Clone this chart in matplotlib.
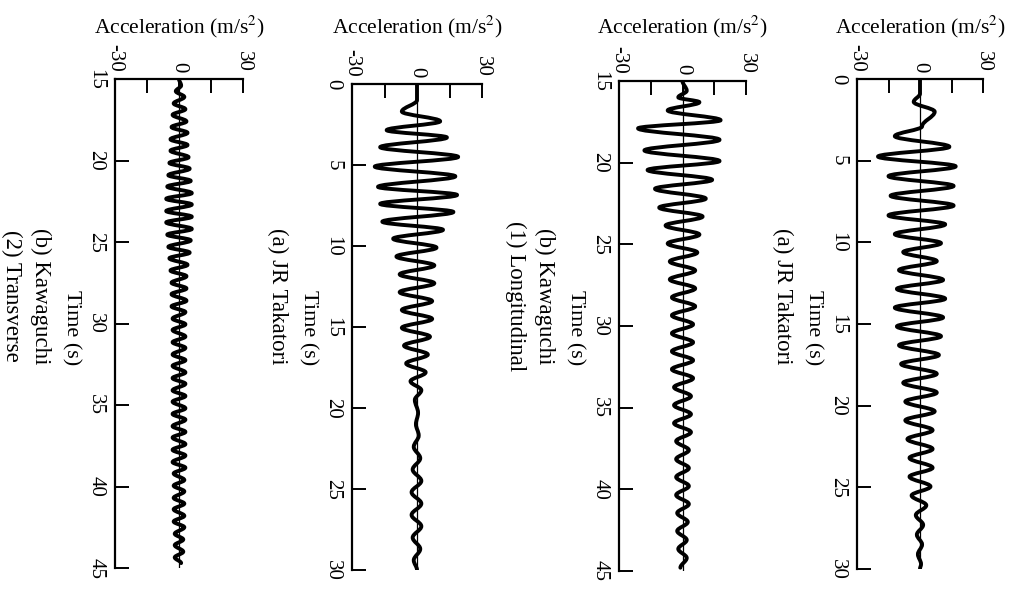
import matplotlib
matplotlib.use('Agg')
import matplotlib.pyplot as plt
from matplotlib.path import Path
from matplotlib.patches import PathPatch

plt.rcParams['font.family'] = 'Liberation Serif'
plt.rcParams['mathtext.fontset'] = 'stix'

# (a) JR Takatori, first record : peaks/troughs (time s, acceleration m/s2)
jr1_t = [0, 0.9, 1.4, 2.0, 2.9, 3.5, 4.15, 4.75, 5.35, 5.95, 6.55, 7.15, 7.75, 8.35, 8.9, 9.5,
         10.05, 10.6, 11.15, 11.7, 12.3, 12.85, 13.45, 14.0, 14.6, 15.15, 15.75, 16.3, 16.9, 17.45,
         18.05, 18.6, 19.2, 19.75, 20.35, 20.9, 21.5, 22.05, 22.65, 23.2, 23.8, 24.35, 24.95, 25.5,
         26.1, 26.7, 27.3, 27.9, 28.5, 29.1, 29.7, 30]
jr1_acc = [0, 0, -3, 7, 1, -12, 14, -20, 17, -15, 16, -14, 16, -15, 12, -12,
           10, -8, 8, -10, 11, -11, 12, -12, 11, -11, 10, -10, 9, -9,
           8, -8, 8, -7, 7, -7, 6, -6, 6, -5, 6, -5, 5, -4,
           3, -2, 1.5, -1.5, 1, -1, 0.5, 0]

# (b) Kawaguchi (1) Longitudinal
kl_t = [15, 15.6, 16.0, 16.3, 16.8, 17.4, 17.9, 18.6, 19.25, 19.9, 20.45, 21.05, 21.6, 22.2,
        22.75, 23.3, 23.85, 24.4, 24.95, 25.5, 26.05, 26.6, 27.15, 27.7, 28.25, 28.8, 29.35,
        29.9, 30.45, 31.0, 31.55, 32.1, 32.65, 33.2, 33.75, 34.3, 34.85, 35.4, 35.95, 36.5,
        37.05, 37.6, 38.15, 38.7, 39.25, 39.8, 40.35, 40.9, 41.45, 42.0, 42.55, 43.1, 43.65,
        44.2, 44.8]
kl_acc = [0, 2, -2, 8, -7, 18, -21, 17.5, -18, 17.5, -16.5, 14, -13, 11, -11, 9.5, -8, 8,
          -7, 7, -6, 6, -6, 6, -5, 6, -5, 5, -5, 5, -5, 5, -5, 5, -4, 4, -4, 4, -4, 4,
          -3, 3, -3, 3, -3, 3, -3, 3, -2.5, 2.5, -2.5, 2, -2, 2, -1]

# (a) JR Takatori, second record
jr2_t = [0, 1.0, 1.7, 2.3, 2.85, 3.3, 3.9, 4.5, 5.1, 5.7, 6.35, 6.85, 7.4, 7.9, 8.5, 9.0,
         9.55, 10.1, 10.65, 11.2, 11.75, 12.3, 12.85, 13.4, 13.95, 14.5, 15.05, 15.6, 16.15,
         16.7, 17.25, 17.8, 18.35, 18.9, 19.5, 20.3, 21.0, 21.7, 22.4, 23.1, 23.8, 24.5, 25.2,
         25.9, 26.6, 27.3, 28.0, 28.7, 29.4, 30]
jr2_acc = [0, 0, -7, 10.7, -14, 13.8, -17, 19, -19.5, 17.7, -18, 18.5, -17, 16.8, -16, 12,
           -11, 9, -9.5, 8, -8, 8, -8, 7, -7, 7, -7, 6, -6, 5, -5, 4, -3, 2, -1, 0.5, -0.5,
           0.8, -1.5, 1.5, -2, 2, -2.5, 2, -2.5, 2, -2, 1.5, -1.5, 0]

# (b) Kawaguchi (2) Transverse
kt_t = [15, 15.4, 15.75, 16.1, 16.5, 16.85, 17.2, 17.6, 17.95, 18.3, 18.7, 19.05, 19.4, 19.8,
        20.15, 20.5, 20.9, 21.25, 21.6, 22.0, 22.35, 22.7, 23.1, 23.45, 23.8, 24.2, 24.55,
        24.9, 25.3, 25.65, 26.0, 26.4, 26.75, 27.1, 27.5, 27.85, 28.2, 28.6, 28.95, 29.3,
        29.7, 30.05, 30.4, 30.8, 31.15, 31.5, 31.9, 32.25, 32.6, 33.0, 33.35, 33.7, 34.1,
        34.45, 34.8, 35.2, 35.55, 35.9, 36.3, 36.65, 37.0, 37.4, 37.75, 38.1, 38.5, 38.85,
        39.2, 39.6, 39.95, 40.3, 40.7, 41.05, 41.4, 41.8, 42.15, 42.5, 42.9, 43.25, 43.6,
        44.0, 44.35, 44.7]
kt_acc = [0, 1, -1.5, 2.5, -2.5, 3, -3, 3.5, -3.5, 4, -4, 4, -4, 4.5, -4.5, 5, -5, 5.5,
          -5.5, 6, -6, 6, -6, 6, -6, 6, -5.5, 5.5, -5, 5, -4.5, 4, -4, 3.5, -3.5, 3.5, -3.5,
          3.5, -3.5, 3, -3, 3, -3, 3, -3, 3, -3, 3, -3, 3, -3, 3, -3, 3, -3, 3, -3, 3, -3,
          3, -3, 3, -3, 3, -3, 3, -2.5, 2.5, -2.5, 2.5, -2.5, 2.5, -2.5, 2.5, -2.5, 2.5, -2,
          2, -2, 2, -2, 1]

W, H = 1013, 597
fig = plt.figure(figsize=(W / 100, H / 100), dpi=100)


def add_panel(px_left, px_right, px_top, px_bottom, t, acc, t0, t1, captions):
    ax = fig.add_axes([px_left / W, 1 - px_bottom / H,
                       (px_right - px_left) / W, (px_bottom - px_top) / H])
    # smooth curve through the peaks (horizontal tangents at each peak)
    verts = [(acc[0], t[0])]
    codes = [Path.MOVETO]
    for i in range(1, len(t)):
        d = t[i] - t[i - 1]
        verts += [(acc[i - 1], t[i - 1] + 0.36 * d), (acc[i], t[i] - 0.36 * d), (acc[i], t[i])]
        codes += [Path.CURVE4] * 3
    ax.add_patch(PathPatch(Path(verts, codes), fill=False, ec='black', lw=2.8,
                           capstyle='round', joinstyle='round', zorder=3))
    ax.axvline(0, color='black', lw=0.9, zorder=2)

    ax.set_xlim(-30, 30)
    ax.set_ylim(t1, t0)
    ax.xaxis.tick_top()
    ax.set_xticks([-30, -15, 0, 15, 30])
    ax.set_xticklabels(['-30', '', '0', '', '30'], rotation=-90)
    ticks = list(range(t0, t1 + 1, 5))
    ax.set_yticks(ticks)
    ax.set_yticklabels([str(v) for v in ticks], rotation=-90, va='center')
    ax.tick_params(direction='in', length=10, width=1.4, labelsize=15, pad=5)
    ax.tick_params(axis='y', pad=7)
    for s in ['right', 'bottom']:
        ax.spines[s].set_visible(False)
    for s in ['top', 'left']:
        ax.spines[s].set_linewidth(1.6)

    cx = (px_left + px_right) / 2
    fig.text(cx / W, 1 - 27 / H, 'Acceleration (m/s$^2$)', ha='center', va='center', fontsize=15.5)
    fig.text((px_left - 44) / W, 1 - 328 / H, 'Time (s)', rotation=-90,
             ha='center', va='center', fontsize=16)
    for k, cap in enumerate(captions):
        fig.text((px_left - 74 - 29 * k) / W, 1 - 296 / H, cap, rotation=-90,
                 ha='center', va='center', fontsize=16.5)
    return ax


add_panel(857, 983, 79, 569, jr1_t, jr1_acc, 0, 30, ['(a) JR Takatori'])
add_panel(619, 746, 81, 571, kl_t, kl_acc, 15, 45, ['(b) Kawaguchi', '(1) Longitudinal'])
add_panel(352, 482, 84, 570, jr2_t, jr2_acc, 0, 30, ['(a) JR Takatori'])
add_panel(115, 243, 79, 568, kt_t, kt_acc, 15, 45, ['(b) Kawaguchi', '(2) Transverse'])

fig.savefig('out.png', dpi=100)
